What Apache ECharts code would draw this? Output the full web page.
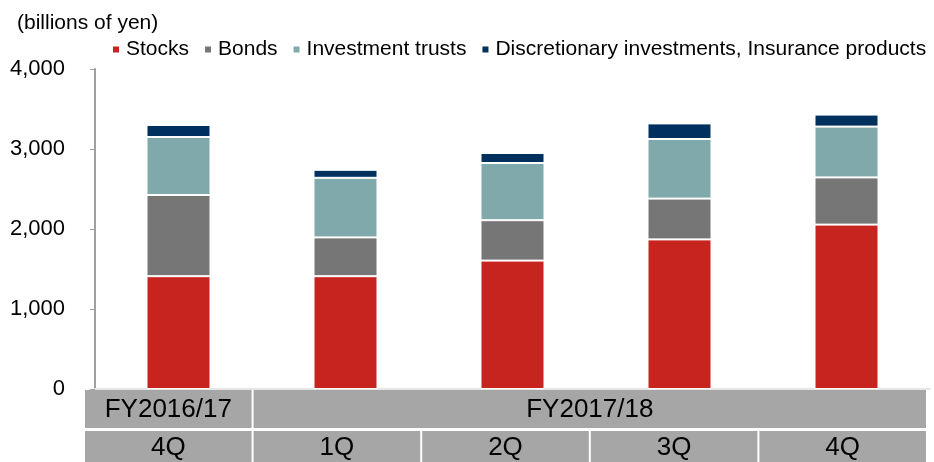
<!DOCTYPE html>
<html>
<head>
<meta charset="utf-8">
<script src="https://cdn.jsdelivr.net/npm/echarts@6/dist/echarts.min.js"></script>
<style>
    html, body { margin: 0; padding: 0; background: #fff; }
    #chart { width: 934px; height: 462px; }
</style>
</head>
<body>
<div id="chart"></div>
<script>
    // values, billions of yen
    var quarters = ['4Q', '1Q', '2Q', '3Q', '4Q'];
    var fiscalYears = [
        { name: 'FY2016/17', from: 0, to: 0 },
        { name: 'FY2017/18', from: 1, to: 4 }
    ];
    var stocks = [1410, 1410, 1605, 1870, 2055];
    var bonds = [1015, 485, 505, 510, 590];
    var trusts = [725, 745, 715, 745, 635];
    var discretionary = [150, 100, 125, 195, 150];
    var yTicks = { min: 0, max: 4000, interval: 1000 };

    var font = '"Liberation Sans", Arial, sans-serif';
    var colorDict = {
        'Stocks': '#c8241f',
        'Bonds': '#767676',
        'Investment trusts': '#80a9ac',
        'Discretionary investments, Insurance products': '#00305e'
    };

    function makeSeries(name, data) {
        return {
            name: name,
            type: 'bar',
            stack: 'total',
            barWidth: 64,
            data: data,
            itemStyle: {
                color: colorDict[name],
                borderColor: '#fff',
                borderWidth: 1
            }
        };
    }

    var chart = echarts.init(document.getElementById('chart'), null, { renderer: 'canvas' });

    var option = {
        backgroundColor: '#fff',
        animation: false,
        title: {
            text: '(billions of yen)',
            left: 12,
            top: 8,
            textStyle: { fontFamily: font, fontSize: 21, fontWeight: 'normal', color: '#000' }
        },
        legend: {
            left: 106,
            top: 34,
            icon: 'rect',
            itemWidth: 8,
            itemHeight: 8,
            itemGap: 14,
            textStyle: { fontFamily: font, fontSize: 21, color: '#000', padding: [0, 0, 0, 1] },
            data: ['Stocks', 'Bonds', 'Investment trusts', 'Discretionary investments, Insurance products']
        },
        grid: { left: 95, right: 4, top: 69, bottom: 73, containLabel: false },
        xAxis: {
            type: 'category',
            data: quarters,
            axisLine: { show: true, lineStyle: { color: '#e6e6e6', width: 2 } },
            axisTick: { show: false },
            axisLabel: { show: false }
        },
        yAxis: {
            type: 'value',
            min: yTicks.min,
            max: yTicks.max,
            interval: yTicks.interval,
            axisLine: { show: true, lineStyle: { color: '#a0a0a0', width: 2 } },
            axisTick: { show: true, length: 5, lineStyle: { color: '#a0a0a0', width: 1 } },
            splitLine: { show: false },
            axisLabel: {
                margin: 30,
                fontFamily: font,
                fontSize: 22,
                color: '#000',
                formatter: function (v) { return v.toLocaleString('en-US'); }
            }
        },
        series: [
            makeSeries('Stocks', stocks),
            makeSeries('Bonds', bonds),
            makeSeries('Investment trusts', trusts),
            makeSeries('Discretionary investments, Insurance products', discretionary)
        ]
    };
    chart.setOption(option);

    // category table under the plot
    var tableLeft = 85, tableRight = 928, gap = 2;
    var row1Top = 390, row1H = 38, row2Top = 431, row2H = 31;
    var colW = (tableRight - tableLeft) / quarters.length;
    var cells = [];

    function cell(x, y, w, h, text) {
        cells.push({
            type: 'rect',
            shape: { x: x, y: y, width: w, height: h },
            style: { fill: '#a6a6a6' },
            z: 10
        });
        cells.push({
            type: 'text',
            x: x + w / 2,
            y: y + h / 2 + 1,
            style: {
                text: text,
                fill: '#000',
                font: '26px ' + font,
                textAlign: 'center',
                textVerticalAlign: 'middle'
            },
            z: 11
        });
    }

    for (var i = 0; i < fiscalYears.length; i++) {
        var fy = fiscalYears[i];
        var x0 = tableLeft + fy.from * colW;
        var x1 = tableLeft + (fy.to + 1) * colW - gap;
        cell(x0, row1Top, x1 - x0, row1H, fy.name);
    }
    for (var j = 0; j < quarters.length; j++) {
        cell(tableLeft + j * colW, row2Top, colW - gap, row2H, quarters[j]);
    }

    chart.setOption({ graphic: cells });
</script>
</body>
</html>
